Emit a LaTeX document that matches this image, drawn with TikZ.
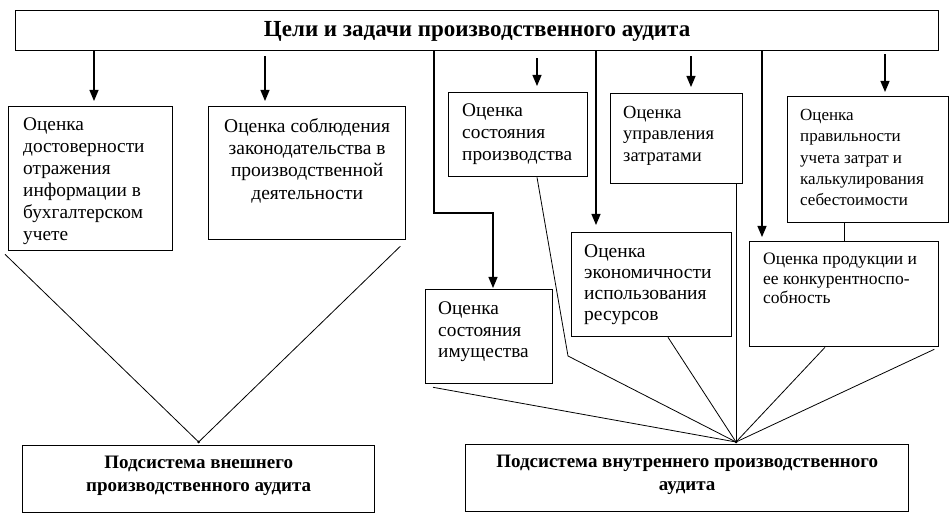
\documentclass[tikz,border=0pt]{standalone}
\usepackage{fontspec}
\setmainfont{Liberation Serif}
\usetikzlibrary{calc,arrows.meta}
\begin{document}
\begin{tikzpicture}[x=1pt,y=-1pt,
 box/.style={draw, line width=1.3pt, inner sep=0pt, anchor=north west},
 txt/.style={inner sep=0pt, anchor=north west, align=left, font=\fontsize{19.3}{22}\selectfont},
 ctxt/.style={inner sep=0pt, anchor=north, align=center, font=\fontsize{19.5}{22.3}\selectfont},
 btxt/.style={inner sep=0pt, align=center, font=\bfseries\fontsize{19}{23}\selectfont},
 arr/.style={line width=1.2pt, -{Triangle[length=11pt,width=9pt]}, shorten >=5pt},
 con/.style={line width=0.8pt},
]
\useasboundingbox (0,0) rectangle (951,518);
% title box
\node[box, minimum width=923pt, minimum height=40pt] (T) at (15,10) {};
\node[font=\bfseries\fontsize{23}{25}\selectfont, inner sep=0pt] (Tt) at ($(T.center)+(0,1)$) {Цели и задачи производственного аудита};
% boxes
\node[box, minimum width=164pt, minimum height=144pt] (A) at (8,106) {};
\node[box, minimum width=197pt, minimum height=133pt] (B) at (208,106) {};
\node[box, minimum width=139pt, minimum height=84pt] (C) at (448,92) {};
\node[box, minimum width=132pt, minimum height=90pt] (D) at (610,93) {};
\node[box, minimum width=161pt, minimum height=126pt] (E) at (787,96) {};
\node[box, minimum width=127pt, minimum height=94pt] (F) at (425,289) {};
\node[box, minimum width=160pt, minimum height=104pt] (G) at (571,232) {};
\node[box, minimum width=189pt, minimum height=105pt] (H) at (749,241) {};
\node[box, minimum width=352pt, minimum height=67pt] (X) at (22,445) {};
\node[box, minimum width=443pt, minimum height=67pt] (Y) at (465,444) {};
% texts
\node[txt] (At) at ($(A.north west)+(15,12)$) {Оценка\\достоверности\\отражения\\информации в\\бухгалтерском\\учете};
\node[ctxt] (Bt) at ($(B.north)+(0,12)$) {Оценка соблюдения\\законодательства в\\производственной\\деятельности};
\node[txt] (Ct) at ($(C.north west)+(14,12)$) {Оценка\\состояния\\производства};
\node[txt, font=\fontsize{18.5}{21.5}\selectfont] (Dt) at ($(D.north west)+(13,13)$) {Оценка\\управления\\затратами};
\node[txt, font=\fontsize{17}{21.3}\selectfont] (Et) at ($(E.north west)+(13,13)$) {Оценка\\правильности\\учета затрат и\\калькулирования\\себестоимости};
\node[txt, font=\fontsize{19.3}{21.2}\selectfont] (Ft) at ($(F.north west)+(13,13)$) {Оценка\\состояния\\имущества};
\node[txt, font=\fontsize{19.5}{21.2}\selectfont] (Gt) at ($(G.north west)+(13,12)$) {Оценка\\экономичности\\использования\\ресурсов};
\node[txt, font=\fontsize{17.5}{19.5}\selectfont] (Ht) at ($(H.north west)+(14,12)$) {Оценка продукции и\\ее конкурентноспо-\\собность};
\node[btxt] (Xt) at ($(X.center)+(0,-3)$) {Подсистема внешнего\\производственного аудита};
\node[btxt] (Yt) at ($(Y.center)+(0,-3)$) {Подсистема внутреннего производственного\\аудита};
% coordinates
\coordinate (Q) at ($(X.north)+(0,-3)$);
\coordinate (P) at (736,442);
\coordinate (bend) at (434,213);
\coordinate (kinkC) at (568,356);
% arrows from the title box
\draw[arr] (T.south -| 94,0) -- (A.north -| 94,0);
\draw[arr, shorten <=5pt] (T.south -| 265,0) -- (B.north -| 265,0);
\draw[arr, shorten <=7pt, shorten >=6pt] (T.south -| 537,0) -- (C.north -| 537,0);
\draw[arr, shorten <=5pt, shorten >=6pt] (T.south -| 691,0) -- (D.north -| 691,0);
\draw[arr, shorten <=3pt, shorten >=4pt] (T.south -| 885,0) -- (E.north -| 885,0);
\draw[arr, shorten >=1pt] (T.south -| bend) -- (bend) -| (F.north -| 493,0);
\draw[arr, shorten >=7pt] (T.south -| 596,0) -- (G.north -| 596,0);
\draw[arr, shorten >=4pt] (T.south -| 762,0) -- (H.north -| 762,0);
% lines to the lower boxes
\draw[con] ($(A.south west)+(-3,3)$) -- (Q) -- ($(B.south east)+(-6,6)$);
\draw[con] ($(F.south west)+(8,3)$) -- (P);
\draw[con] ($(C.south west)+(89,0)$) -- (kinkC) -- (P);
\draw[con] ($(G.south west)+(97,0)$) -- (P);
\draw[con] (D.south -| P) -- (P);
\draw[con] ($(H.south west)+(76,0)$) -- (P);
\draw[con] ($(H.south east)+(-5,2)$) -- (P);
\draw[con] (H.north) -- (E.south -| H.north);
\fill (P) circle (1.5pt);
\fill (Q) circle (1.5pt);
\end{tikzpicture}
\end{document}
